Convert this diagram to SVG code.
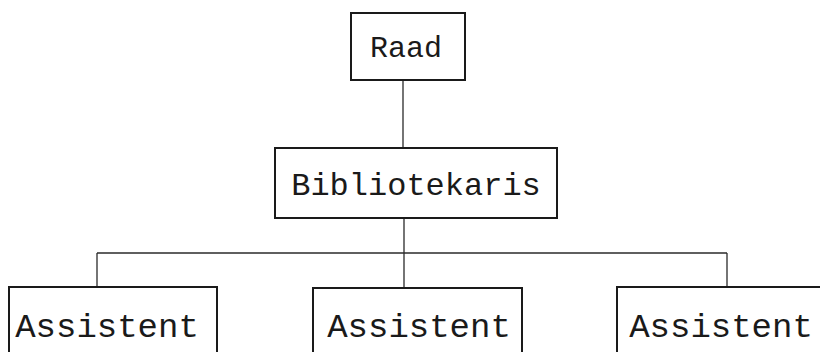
<svg xmlns="http://www.w3.org/2000/svg" width="820" height="352" viewBox="0 0 820 352">
<style>
.box{fill:#fff;stroke:#1a1a1a;stroke-width:2}
.lbl{font-family:"Liberation Mono","DejaVu Sans Mono",monospace;fill:#1a1a1a;text-anchor:middle}
.con{fill:none;stroke:#2a2a2a;stroke-width:1.3}
</style>
<rect width="820" height="352" fill="#fff"/>
<g id="connectors">
<line class="con" x1="403" y1="80" x2="403" y2="148"/>
<line class="con" x1="404" y1="218" x2="404" y2="253"/>
<line class="con" x1="97" y1="253" x2="727" y2="253"/>
<line class="con" x1="97" y1="253" x2="97" y2="287"/>
<line class="con" x1="404" y1="253" x2="404" y2="288"/>
<line class="con" x1="727" y1="253" x2="727" y2="287"/>
</g>
<g id="raad">
<rect class="box" x="351" y="13" width="114" height="67"/>
<text class="lbl" x="406" y="57" font-size="30">Raad</text>
</g>
<g id="bibliotekaris">
<rect class="box" x="275" y="148" width="282" height="70"/>
<text class="lbl" x="416" y="195" font-size="32">Bibliotekaris</text>
</g>
<g id="assistent1">
<rect class="box" x="9" y="287" width="208" height="80"/>
<text class="lbl" x="107" y="337" font-size="34">Assistent</text>
</g>
<g id="assistent2">
<rect class="box" x="313" y="288" width="209" height="80"/>
<text class="lbl" x="419" y="337" font-size="34">Assistent</text>
</g>
<g id="assistent3">
<rect class="box" x="617" y="287" width="220" height="80"/>
<text class="lbl" x="721" y="337" font-size="34">Assistent</text>
</g>
</svg>
